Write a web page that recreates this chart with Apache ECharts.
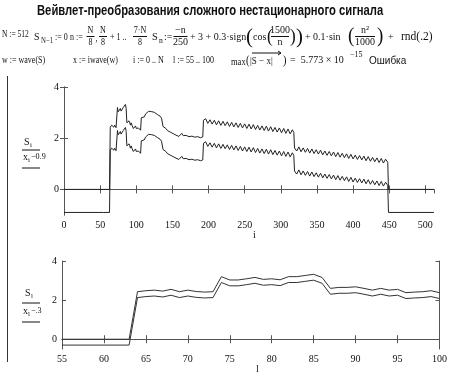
<!DOCTYPE html>
<html>
<head>
<meta charset="utf-8">
<script src="https://cdn.jsdelivr.net/npm/echarts@6/dist/echarts.min.js"></script>
<style>
html, body { margin: 0; padding: 0; background: #fff; }
#chart { width: 450px; height: 374px; }
</style>
</head>
<body>
<div id="chart"></div>
<script>
// signal S_i (index i, value); outside 64..448 it is 0
const sIdx = [0, 55, 63,
    64, 65, 66, 67, 68, 69, 70, 71, 72, 73, 74, 75, 76, 77, 78, 79, 80, 81, 82,
    83, 84, 85, 86, 87, 88, 89, 90, 91, 92, 93, 94, 95, 96, 97, 98, 99, 100,
    101, 103, 105, 106,
    107, 109, 111, 113, 115, 117, 119, 121, 123, 125, 127, 129, 131, 133, 135, 136,
    137, 139, 141, 143, 145, 147, 149, 151, 153, 155, 157, 159, 161, 163, 165, 167,
    169, 171, 173, 175, 177, 179, 181, 183, 185, 187, 189, 191, 192,
    193, 196, 199, 202, 205, 208, 211, 214, 217, 220, 223, 226, 229, 232, 235, 238,
    241, 244, 247, 250, 253, 256, 259, 262, 265, 268, 271, 274, 277, 280, 283, 286,
    289, 292, 295, 298, 301, 304, 307, 310, 313, 316, 318,
    319, 322, 325, 328, 331, 334, 337, 340, 343, 346, 349, 352, 355, 358, 361, 364,
    367, 370, 373, 376, 379, 382, 385, 388, 391, 394, 397, 400, 403, 406, 409, 412,
    415, 418, 421, 424, 427, 430, 433, 436, 439, 442, 445, 448,
    449, 512]
const sVal = [0, 0, 0,
    2.43, 2.48, 2.51, 2.46, 2.55, 2.43, 2.51, 2.44, 2.41, 2.43, 3.2, 3.03, 3.03, 3.09, 3.16, 3.06, 3.09, 3.04, 3.2,
    3.2, 3.26, 3.32, 3.16, 2.6, 2.65, 2.65, 2.68, 2.6, 2.51, 2.6, 2.51, 2.55, 2.38, 2.41, 2.43, 2.48, 2.38,
    2.44, 2.40, 2.37, 2.31,
    2.80, 2.86, 2.83, 2.95, 2.92, 3.05, 3.10, 3.04, 3.09, 3.01, 2.99, 2.93, 2.95, 2.86, 2.78, 2.84,
    2.46, 2.40, 2.38, 2.30, 2.35, 2.24, 2.28, 2.18, 2.23, 2.12, 2.17, 2.07, 2.14, 2.19, 2.10, 2.03,
    2.11, 2.17, 2.06, 2.00, 2.08, 2.14, 2.04, 1.97, 2.06, 2.13, 2.02, 1.97, 2.05,
    2.70, 2.76, 2.58, 2.72, 2.55, 2.70, 2.52, 2.68, 2.50, 2.66, 2.49, 2.64, 2.46, 2.62, 2.44, 2.60,
    2.42, 2.58, 2.40, 2.56, 2.38, 2.55, 2.36, 2.53, 2.34, 2.50, 2.32, 2.48, 2.30, 2.47, 2.28, 2.45,
    2.26, 2.42, 2.24, 2.40, 2.21, 2.38, 2.19, 2.36, 2.17, 2.33, 2.22,
    1.62, 1.50, 1.66, 1.47, 1.62, 1.45, 1.60, 1.42, 1.58, 1.40, 1.55, 1.38, 1.53, 1.35, 1.50, 1.33,
    1.48, 1.31, 1.46, 1.28, 1.44, 1.26, 1.41, 1.24, 1.39, 1.21, 1.37, 1.19, 1.34, 1.17, 1.32, 1.15,
    1.30, 1.12, 1.28, 1.10, 1.25, 1.08, 1.23, 1.05, 1.21, 1.03, 1.18, 1.06,
    0, 0]
// x = iwave(wave(S)) equals S (max error 5.773e-15), plotted shifted as labelled
const xVal = sVal
const topShift = 0.9
const bottomShift = 0.3
const yTicks = [0, 2, 4]

const lineCol = '#222'
const frameCol = '#555'
const serif = 'Liberation Serif'

function pairs (idx, vals, shift, lo, hi) {
    let out = []
    idx.forEach((v, k) => {
        if (v >= lo && v <= hi) out.push([v, vals[k] - shift])
    })
    return out
}

// text piece: size in px, sx = horizontal squeeze, align
function txt (x, y, s, size, sx, align, family) {
    return {
        type: 'text', x: x, y: y, scaleX: sx || 0.8,
        style: {
            text: s, font: (size || 10) + 'px "' + (family || serif) + '"', fill: '#111',
            align: align || 'left', verticalAlign: 'middle'
        }
    }
}
function hline (x1, x2, y, col) {
    return { type: 'line', shape: { x1: x1, y1: y, x2: x2, y2: y }, style: { stroke: col || '#111', lineWidth: 1 } }
}
function frac (cx, y, num, den, half, size, sx) {
    return [
        txt(cx, y - 5.5, num, size || 10, sx, 'center'),
        hline(cx - half, cx + half, y + 0.5),
        txt(cx, y + 6.5, den, size || 10, sx, 'center')
    ]
}

function frameAxes (gridIndex, min, max, interval, custom, isX) {
    let base = {
        gridIndex: gridIndex, type: 'value', min: min, max: max,
        axisLine: { show: true, lineStyle: { color: frameCol, width: 1 } },
        axisTick: { show: true, inside: true, length: 4, lineStyle: { color: frameCol } },
        splitLine: { show: false },
        axisLabel: { show: true, color: '#111', fontFamily: serif, fontSize: 10, margin: 5, showMaxLabel: !isX || max % interval === 0 }
    }
    if (interval) base.interval = interval
    if (custom) {
        base.axisTick.customValues = custom
        base.axisLabel.customValues = custom
    }
    let other = JSON.parse(JSON.stringify(base))
    other.axisLabel.show = false
    if (isX) {
        base.position = 'bottom'
        other.position = 'top'
    } else {
        base.position = 'left'
        other.position = 'right'
    }
    return [base, other]
}

let topX = frameAxes(0, 0, 512, 50, null, true)
let topY = frameAxes(0, -1, 4, null, yTicks, false)
let botX = frameAxes(1, 55, 100, 5, null, true)
let botY = frameAxes(1, -0.5, 4, null, yTicks, false)

const big = 10.5
const bsx = 0.95
let graphics = [
    {
        type: 'text', x: 37, y: 11, scaleX: 0.75,
        style: { text: 'Вейвлет-преобразования сложного нестационарного сигнала', font: 'bold 15px "Liberation Sans"', fill: '#111', align: 'left', verticalAlign: 'middle' }
    },
    // row 1
    txt(2, 34, 'N := 512', 10, 0.75),
    txt(34, 37, 'S', 11, 0.9), txt(41, 41, 'N−1', 8, 0.85), txt(55, 37, ':= 0'),
    txt(70, 37, 'n :='),
    ...frac(90.5, 36, 'N', '8', 4), txt(95.5, 38, ','),
    ...frac(103, 36, 'N', '8', 4), txt(110, 37, '+ 1 ..'),
    ...frac(140, 36, '7·N', '8', 7),
    txt(152, 37, 'S', 11, bsx), txt(159, 41, 'n', 8, bsx), txt(164, 37, ':=', big, bsx),
    ...frac(180.5, 36, '−n', '250', 7, big, bsx),
    txt(190, 37, '+ 3 + 0.3·sign', big, bsx),
    txt(246, 37, '(', 22, bsx), txt(253, 37, 'cos', big, bsx), txt(267, 37, '(', 18, bsx),
    ...frac(280, 36, '1500', 'n', 9, big, bsx),
    txt(290, 37, ')', 18, bsx), txt(296, 37, ')', 22, bsx),
    txt(305, 37, '+ 0.1·sin', big, bsx), txt(348, 37, '(', 20, bsx),
    ...frac(365, 36, 'n²', '1000', 10, big, bsx),
    txt(377, 37, ')', 20, bsx),
    txt(388, 37, '+', big, bsx), txt(401, 37, 'rnd(.2)', 11.5, 1),
    // row 2
    txt(2, 60, 'w := wave(S)'),
    txt(73, 60, 'x := iwave(w)'),
    txt(133, 60, 'i := 0 .. N'),
    txt(173, 60, 'l := 55 .. 100'),
    txt(231, 62, 'max', 10, 0.85), txt(246, 61, '(', 13), txt(250, 61, '|S − x|', 10, 0.9), txt(283, 61, ')', 13),
    hline(252, 281, 53),
    { type: 'polyline', shape: { points: [[278, 51], [281, 53], [278, 55]] }, style: { stroke: '#111', fill: null, lineWidth: 1 } },
    txt(290, 60, '=  5.773 × 10', 10, 1), txt(350, 55, '−15', 8, 1),
    txt(369, 61, 'Ошибка', 10, 1, 'left', 'Liberation Sans'),
    // trace legends
    txt(24, 142, 'S', 10, 1), txt(30, 145, 'i', 7, 1),
    hline(22, 40, 150),
    txt(23, 157, 'x', 10, 1), txt(28, 160, 'i', 7, 1), txt(31, 157, '−0.9', 9, 0.9),
    hline(22, 40, 168),
    txt(25, 293, 'S', 10, 1), txt(31, 296, 'l', 7, 1),
    hline(22, 40, 303),
    txt(23, 311, 'x', 10, 1), txt(28, 314, 'l', 7, 1), txt(31, 311, '−.3', 9, 0.9),
    hline(22, 40, 322),
    // axis names
    txt(253, 235, 'i', 10, 1), txt(256, 369, 'l', 10, 1),
    // region border
    { type: 'line', shape: { x1: 7.5, y1: 76, x2: 7.5, y2: 362 }, style: { stroke: '#333', lineWidth: 1 } }
]

let option = {
    animation: false,
    backgroundColor: '#fff',
    grid: [
        { left: 64, top: 87, width: 370, height: 128 },
        { left: 62, top: 261, width: 381, height: 88 }
    ],
    xAxis: [topX[0], topX[1], botX[0], botX[1]],
    yAxis: [topY[0], topY[1], botY[0], botY[1]],
    graphic: graphics,
    series: [
        { type: 'line', xAxisIndex: 0, yAxisIndex: 0, data: pairs(sIdx, sVal, 0, 0, 512), showSymbol: false, lineStyle: { color: lineCol, width: 1 } },
        { type: 'line', xAxisIndex: 0, yAxisIndex: 0, data: pairs(sIdx, xVal, topShift, 0, 512), showSymbol: false, lineStyle: { color: lineCol, width: 1 } },
        { type: 'line', xAxisIndex: 2, yAxisIndex: 2, data: pairs(sIdx, sVal, 0, 55, 100), showSymbol: false, lineStyle: { color: '#333', width: 1 } },
        { type: 'line', xAxisIndex: 2, yAxisIndex: 2, data: pairs(sIdx, xVal, bottomShift, 55, 100), showSymbol: false, lineStyle: { color: '#333', width: 1 } }
    ]
}

let chart = echarts.init(document.getElementById('chart'))
chart.setOption(option)
window.addEventListener('resize', () => chart.resize(), false)
</script>
</body>
</html>
